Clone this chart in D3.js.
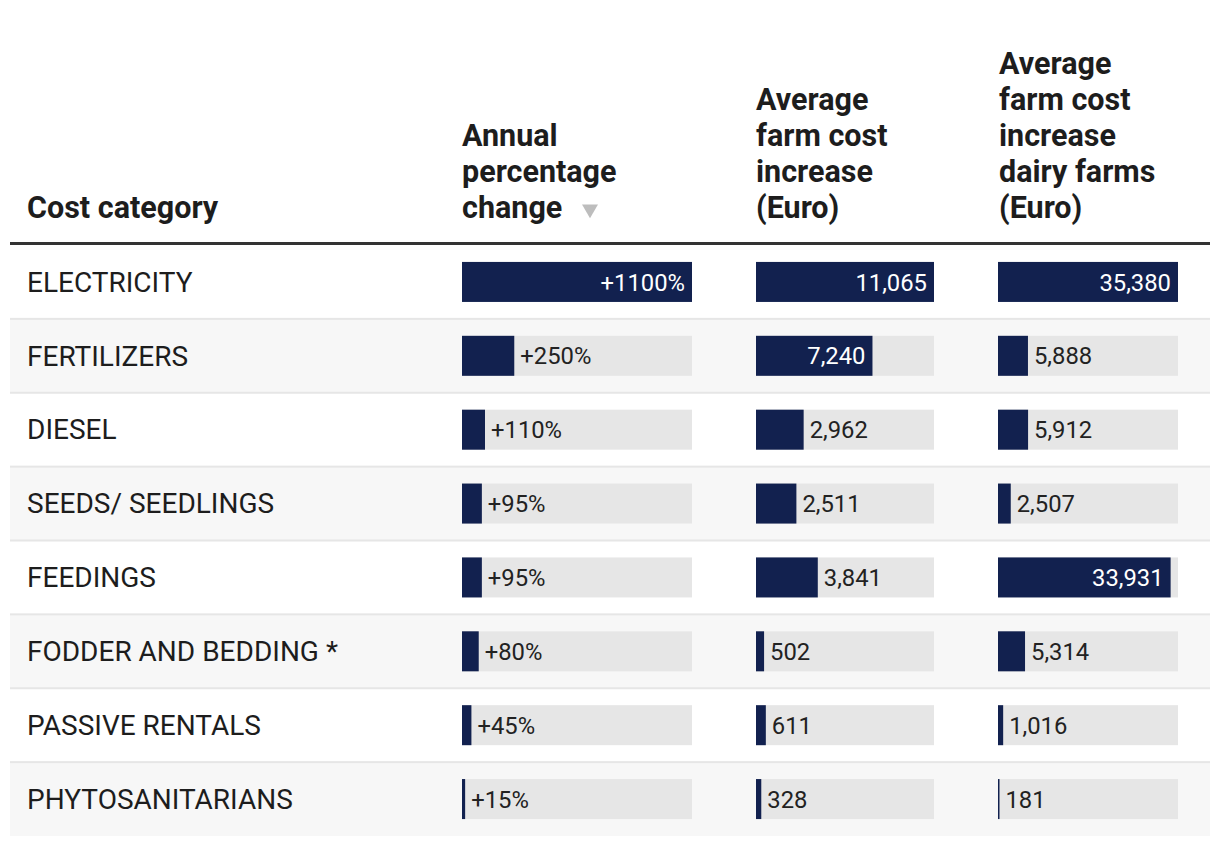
<!DOCTYPE html>
<html><head><meta charset="utf-8">
<script src="https://cdn.jsdelivr.net/npm/d3@7"></script>
<style>
html,body{margin:0;padding:0;background:#fff;}
svg text{font-family:Roboto,"Noto Sans",sans-serif;}
</style></head>
<body><svg id="c" width="1220" height="846"></svg>
<script>
const categories = ["ELECTRICITY","FERTILIZERS","DIESEL","SEEDS/ SEEDLINGS","FEEDINGS","FODDER AND BEDDING *","PASSIVE RENTALS","PHYTOSANITARIANS"];
const pctChange = [1100,250,110,95,95,80,45,15];
const farmCost = [11065,7240,2962,2511,3841,502,611,328];
const dairyCost = [35380,5888,5912,2507,33931,5314,1016,181];
const headers = [
  ["Cost category"],
  ["Annual","percentage","change"],
  ["Average","farm cost","increase","(Euro)"],
  ["Average","farm cost","increase","dairy farms","(Euro)"]
];

const svg = d3.select("#c");
const left = 10, right = 1210;
const headTop = 242, headLine = 3;
const y = d3.scaleBand().domain(d3.range(categories.length)).range([headTop+headLine, 836]).paddingInner(0);
const barH = 40;
const navy = "#12214f";

const cols = [
  {x:462, w:230, data:pctChange, fmt:v=>"+"+v+"%"},
  {x:756, w:178, data:farmCost, fmt:d3.format(",")},
  {x:998, w:180, data:dairyCost, fmt:d3.format(",")}
];
cols.forEach(c=>{ c.scale = d3.scaleLinear().domain([0,d3.max(c.data)]).range([0,c.w]); });

// row backgrounds
const rows = svg.append("g").selectAll("g").data(categories).join("g")
  .attr("transform",(d,i)=>`translate(0,${y(i)})`);
rows.append("rect").attr("x",left).attr("width",right-left).attr("height",y.bandwidth())
  .attr("fill",(d,i)=> i%2===1 ? "#f7f7f7" : "#ffffff");
rows.filter((d,i)=>i>0).append("rect").attr("x",left).attr("width",right-left).attr("y",-1).attr("height",2).attr("fill","#e6e6e6");
rows.append("text").attr("x",27).attr("y",y.bandwidth()/2).attr("dy","0.35em")
  .attr("font-size",28).attr("fill","#1d1d1d").text(d=>d);

cols.forEach(c=>{
  const m = d3.max(c.data);
  const g = rows.append("g").attr("transform",`translate(0,${(y.bandwidth()-barH)/2})`);
  g.append("rect").attr("x",c.x).attr("width",c.w).attr("height",barH).attr("fill","#e6e6e6");
  g.append("rect").attr("x",c.x).attr("width",(d,i)=>Math.max(1.5,c.scale(c.data[i]))).attr("height",barH).attr("fill",navy);
  g.append("text")
    .attr("x",(d,i)=> c.data[i]/m>0.5 ? c.x+c.scale(c.data[i])-7 : c.x+Math.max(1.5,c.scale(c.data[i]))+6)
    .attr("text-anchor",(d,i)=> c.data[i]/m>0.5 ? "end":"start")
    .attr("y",barH/2).attr("dy","0.36em").attr("font-size",23.8)
    .attr("fill",(d,i)=> c.data[i]/m>0.5 ? "#ffffff":"#222")
    .text((d,i)=>c.fmt(c.data[i]));
});

// header
svg.append("rect").attr("x",left).attr("y",headTop).attr("width",right-left).attr("height",headLine).attr("fill","#333");
const hx = [27,462,756,999];
headers.forEach((lines,k)=>{
  const t = svg.append("text").attr("font-size",30.5).attr("font-weight","bold").attr("fill","#1d1d1d");
  lines.forEach((ln,j)=>{
    t.append("tspan").attr("x",hx[k]).attr("y",218-(lines.length-1-j)*36).text(ln);
  });
});
// sort indicator
svg.append("path").attr("d",d3.symbol(d3.symbolTriangle,110)()).attr("fill","#bdbdbd")
  .attr("transform","translate(590,209) rotate(180)");
</script></body></html>
